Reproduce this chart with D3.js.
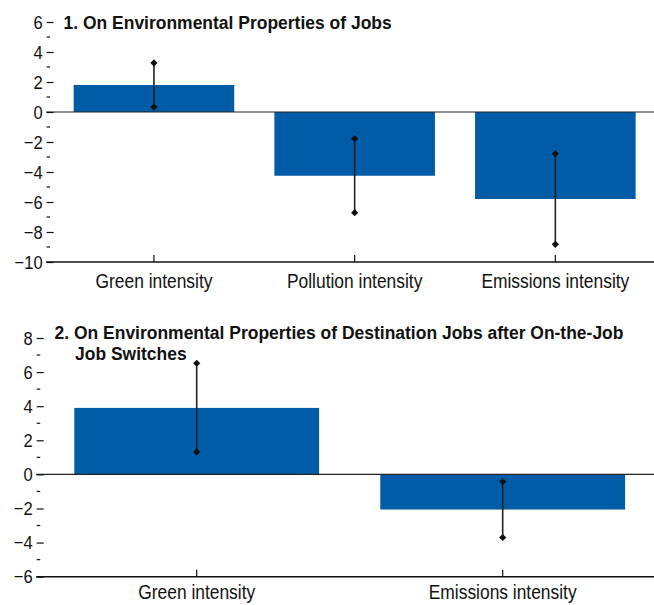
<!DOCTYPE html>
<html>
<head>
<meta charset="utf-8">
<script src="https://cdn.jsdelivr.net/npm/d3@7"></script>
<style>
  html, body { margin: 0; padding: 0; background: #fff; }
  svg { display: block; }
  text { font-family: 'Liberation Sans', Arial, sans-serif; fill: #111; }
</style>
</head>
<body>
<svg id="chart" width="654" height="605"></svg>
<script>
// ---- Data ----
const panel1Title = ["1. On Environmental Properties of Jobs"];
const panel1Categories = ["Green intensity", "Pollution intensity", "Emissions intensity"];
const panel1Values = [1.8, -4.25, -5.8];
const panel1Lower = [0.33, -6.71, -8.82];
const panel1Upper = [3.27, -1.78, -2.78];
const panel1Ticks = [-10, -8, -6, -4, -2, 0, 2, 4, 6];
const panel1MinorTicks = [-9, -7, -5, -3, -1, 1, 3, 5];

const panel2Title = ["2. On Environmental Properties of Destination Jobs after On-the-Job", "Job Switches"];
const panel2Categories = ["Green intensity", "Emissions intensity"];
const panel2Values = [3.9, -2.06];
const panel2Lower = [1.32, -3.7];
const panel2Upper = [6.52, -0.42];
const panel2Ticks = [-6, -4, -2, 0, 2, 4, 6, 8];
const panel2MinorTicks = [-5, -3, -1, 1, 3, 5, 7];

const svg = d3.select("#chart");
const barColor = "#005ca6";
const FONT = "'Liberation Sans', Arial, sans-serif";
const SX_REG = 0.87;   // horizontal condensation for regular text
const SX_BOLD = 0.92;  // horizontal condensation for bold titles
const fmt = v => (v < 0 ? "\u2212" + Math.abs(v) : String(v));
const diamond = "M0,-3.6L3.6,0L0,3.6L-3.6,0Z";

function drawPanel(cfg) {
  const g = svg.append("g");
  const y = d3.scaleLinear().domain(cfg.domain).range([cfg.bottom, cfg.top]);
  const x = d3.scaleBand().domain(cfg.categories).range([cfg.left, cfg.right])
    .paddingInner(0.2).paddingOuter(0.1);

  // bars
  g.selectAll("rect.bar").data(cfg.categories).join("rect")
    .attr("class", "bar")
    .attr("x", d => x(d))
    .attr("width", x.bandwidth())
    .attr("y", (d, i) => Math.min(y(cfg.values[i]), y(0)))
    .attr("height", (d, i) => Math.abs(y(cfg.values[i]) - y(0)))
    .attr("fill", barColor);

  // zero line
  g.append("line")
    .attr("x1", cfg.left - 7.5).attr("x2", 654)
    .attr("y1", y(0)).attr("y2", y(0))
    .attr("stroke", "#222").attr("stroke-width", 1.2);

  // y axis (no domain line)
  const tickSize = 7, tickPad = 4;
  const yAxis = d3.axisLeft(y).tickValues(cfg.ticks).tickSize(tickSize).tickPadding(tickPad).tickFormat(fmt);
  const ya = g.append("g").attr("transform", `translate(${cfg.left},0)`).call(yAxis);
  ya.select(".domain").remove();
  ya.selectAll(".tick line").attr("stroke", "#111").attr("stroke-width", 1.2);
  ya.selectAll(".tick text")
    .attr("font-size", 19).attr("fill", "#111").attr("font-family", FONT)
    .attr("x", -(tickSize + tickPad) / SX_REG)
    .attr("transform", `scale(${SX_REG},1)`);

  // minor ticks
  g.selectAll("line.minor").data(cfg.minor).join("line")
    .attr("class", "minor")
    .attr("x1", cfg.left - 7).attr("x2", cfg.left - 3.5)
    .attr("y1", d => y(d)).attr("y2", d => y(d))
    .attr("stroke", "#111").attr("stroke-width", 1.2);

  // bottom x axis
  const xAxis = d3.axisBottom(x).tickSize(0).tickPadding(0);
  const xa = g.append("g").attr("transform", `translate(0,${cfg.bottom})`).call(xAxis);
  xa.select(".domain").remove();
  xa.selectAll(".tick text")
    .attr("font-size", 20).attr("fill", "#111").attr("font-family", FONT)
    .attr("y", cfg.labelBase).attr("dy", 0)
    .attr("transform", `scale(${SX_REG},1)`);
  // inner tick marks at category centers
  g.selectAll("line.xtick").data(cfg.categories).join("line")
    .attr("class", "xtick")
    .attr("x1", d => x(d) + x.bandwidth() / 2).attr("x2", d => x(d) + x.bandwidth() / 2)
    .attr("y1", cfg.bottom).attr("y2", cfg.bottom - 7)
    .attr("stroke", "#111").attr("stroke-width", 1.2);
  g.append("line")
    .attr("x1", cfg.left - 7.5).attr("x2", 654)
    .attr("y1", cfg.bottom).attr("y2", cfg.bottom)
    .attr("stroke", "#111").attr("stroke-width", 1.6);

  // error bars
  cfg.categories.forEach((c, i) => {
    const cx = x(c) + x.bandwidth() / 2;
    g.append("line")
      .attr("x1", cx).attr("x2", cx)
      .attr("y1", y(cfg.lower[i])).attr("y2", y(cfg.upper[i]))
      .attr("stroke", "#222").attr("stroke-width", 1.6);
    [cfg.lower[i], cfg.upper[i]].forEach(v => {
      g.append("path")
        .attr("d", diamond)
        .attr("transform", `translate(${cx},${y(v)})`)
        .attr("fill", "#111");
    });
  });

  // title
  cfg.title.forEach((t, i) => {
    g.append("text")
      .attr("transform", `translate(${cfg.titleX[i]},${cfg.titleY[i]}) scale(${SX_BOLD},1)`)
      .attr("font-size", 19).attr("font-weight", "bold").attr("font-family", FONT)
      .text(t);
  });
}

drawPanel({
  categories: panel1Categories, values: panel1Values, lower: panel1Lower, upper: panel1Upper,
  ticks: panel1Ticks, minor: panel1MinorTicks, domain: [-10, 6],
  top: 22, bottom: 262, left: 53.6, right: 655.7, labelBase: 26,
  title: panel1Title, titleX: [63.5], titleY: [29.3]
});

drawPanel({
  categories: panel2Categories, values: panel2Values, lower: panel2Lower, upper: panel2Upper,
  ticks: panel2Ticks, minor: panel2MinorTicks, domain: [-6, 8],
  top: 338, bottom: 576.7, left: 43.7, right: 655.7, labelBase: 22.6,
  title: panel2Title, titleX: [54.5, 75], titleY: [338.7, 359.7]
});
</script>
</body>
</html>
